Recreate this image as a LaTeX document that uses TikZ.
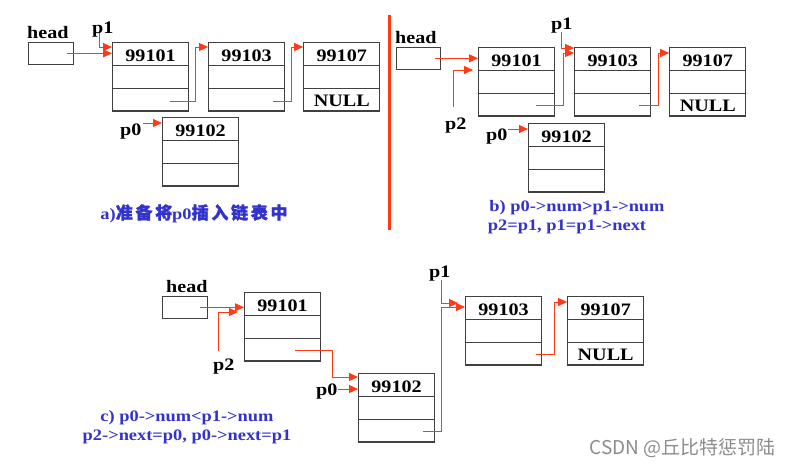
\documentclass[tikz,border=0pt]{standalone}
\usepackage{fontspec}
\setmainfont{Liberation Serif}
\newfontfamily\boxfont[FakeStretch=1.15]{Liberation Serif}
\newfontfamily\cjk[FakeBold=1.5, LetterSpace=16]{Noto Sans CJK SC}
\newfontfamily\wmfont{Noto Sans CJK SC}
\usetikzlibrary{shapes.multipart, arrows.meta, positioning, calc}

\definecolor{linkred}{RGB}{255,58,20}
\definecolor{capblue}{RGB}{50,50,205}
\newcommand{\cell}[1]{\rule[-3.7pt]{0pt}{21.7pt}#1}
\newcommand{\zh}[1]{{\cjk\fontsize{17}{20}\selectfont #1}}

\begin{document}
\begin{tikzpicture}[
        x=1pt, y=-1pt,
        listnode/.style={rectangle split, rectangle split parts=3, draw=black!75, line width=1.1pt, minimum width=76pt, inner xsep=2pt, inner ysep=0pt, anchor=north west, font=\boxfont\bfseries\fontsize{17.5}{18}\selectfont},
        headbox/.style={rectangle, draw=black!75, line width=1.1pt, minimum width=45pt, minimum height=21.5pt, inner sep=0pt, anchor=north west},
        ptr/.style={font=\boxfont\bfseries\fontsize{17.5}{18}\selectfont, inner sep=0pt, anchor=base west},
        caption/.style={font=\boxfont\bfseries\fontsize{16}{19}\selectfont, text=capblue, inner sep=0pt, anchor=base},
        link/.style={draw=linkred, line width=0.9pt, -{Triangle[length=9pt,width=8pt]}}
    ]
    \path[use as bounding box, fill=white] (0,0) rectangle (792,466);

    % Nodes: a)
    \node[headbox] (ha) at (28,42) {};
    \node[listnode] (a1) at (112,42) {\cell{99101}\nodepart{two}\cell{}\nodepart{three}\cell{}};
    \node[listnode, right=19pt of a1] (a2) {\cell{99103}\nodepart{two}\cell{}\nodepart{three}\cell{}};
    \node[listnode, right=18pt of a2] (a3) {\cell{99107}\nodepart{two}\cell{}\nodepart{three}\cell{NULL}};
    \node[listnode] (a0) at (162,117) {\cell{99102}\nodepart{two}\cell{}\nodepart{three}\cell{}};
    \node[ptr] (heada) at (27,38) {head};
    \node[ptr] (p1a) at (92,33) {p1};
    \node[ptr] (p0a) at (120,135) {p0};
    \node[caption] (capa) at (194,219) {a)\zh{准备将}p0\zh{插入链表中}};

    % Nodes: b)
    \node[headbox, minimum width=44pt] (hb) at (396,47) {};
    \node[listnode] (b1) at (478,47) {\cell{99101}\nodepart{two}\cell{}\nodepart{three}\cell{}};
    \node[listnode, right=19pt of b1] (b2) {\cell{99103}\nodepart{two}\cell{}\nodepart{three}\cell{}};
    \node[listnode, right=18pt of b2] (b3) {\cell{99107}\nodepart{two}\cell{}\nodepart{three}\cell{NULL}};
    \node[listnode] (b0) at (528,123) {\cell{99102}\nodepart{two}\cell{}\nodepart{three}\cell{}};
    \node[ptr] (headb) at (395,43) {head};
    \node[ptr] (p1b) at (551,29) {p1};
    \node[ptr] (p2b) at (445,129) {p2};
    \node[ptr] (p0b) at (486,140) {p0};
    \node[caption] (capb1) at (577,211) {b) p0->num>p1->num};
    \node[caption] (capb2) at (567,230) {p2=p1, p1=p1->next};

    % Nodes: c)
    \node[headbox] (hc) at (162,296) {};
    \node[listnode] (c1) at (244,292) {\cell{99101}\nodepart{two}\cell{}\nodepart{three}\cell{}};
    \node[listnode] (c0) at (358,373) {\cell{99102}\nodepart{two}\cell{}\nodepart{three}\cell{}};
    \node[listnode] (c2) at (465,296) {\cell{99103}\nodepart{two}\cell{}\nodepart{three}\cell{}};
    \node[listnode, right=25pt of c2] (c3) {\cell{99107}\nodepart{two}\cell{}\nodepart{three}\cell{NULL}};
    \node[ptr] (headc) at (166,292) {head};
    \node[ptr] (p1c) at (429,277) {p1};
    \node[ptr] (p2c) at (213,370) {p2};
    \node[ptr] (p0c) at (316,395) {p0};
    \node[caption] (capc1) at (187,421) {c) p0->num<p1->num};
    \node[caption] (capc2) at (187,440) {p2->next=p0, p0->next=p1};

    % Separator
    \draw[linkred, line width=3pt] (389,15) -- (389,230);

    % Watermark
    \node[font=\wmfont\fontsize{19}{20}\selectfont, text=black!45, inner sep=0pt, anchor=base east] (wm) at (776,454) {CSDN @丘比特惩罚陆};

    % Connections: a)
    \draw[link] ([xshift=-7pt]ha.east) -- (ha.east -| a1.west);
    \draw[link] ([xshift=7pt]p1a.base west) |- ([shift={(0,5)}]a1.north west);
    \draw[link] ([shift={(-19,-10)}]a1.south east) -- ++(25,0) |- ([shift={(0,5)}]a2.north west);
    \draw[link] ([shift={(-12,-10)}]a2.south east) -- ++(18,0) |- ([shift={(0,5)}]a3.north west);
    \draw[link] ($(a0.north west)+(-19,6)$) -- ($(a0.north west)+(0,6)$);

    % Connections: b)
    \draw[link] ([xshift=-6pt]hb.east) -- (hb.east -| b1.west);
    \draw[link] ([shift={(8,-10)}]p2b.north west) |- ([shift={(-5,23)}]b1.north west);
    \draw[link] ([shift={(10,3)}]p1b.base west) |- ([shift={(0,1)}]b2.north west);
    \draw[link] ([shift={(-19,-11)}]b1.south east) -- ++(27,0) |- ([shift={(0,6)}]b2.north west);
    \draw[link] ([shift={(-12,-11)}]b2.south east) -- ++(19,0) |- ([shift={(0,6)}]b3.north west);
    \draw[link] ($(b0.north west)+(-20,6)$) -- ($(b0.north west)+(0,6)$);

    % Connections: c)
    \draw[link] ([xshift=-8pt]hc.east) -- (hc.east -| c1.west);
    \draw[link] ([shift={(5,-7)}]p2c.north west) |- ([shift={(-6,20)}]c1.north west);
    \draw[link] ([shift={(-26,-11)}]c1.south east) -- ++(37,0) |- ([shift={(0,4)}]c0.north west);
    \draw[link] ($(c0.north west)+(-20,16)$) -- ($(c0.north west)+(0,16)$);
    \draw[link] ([shift={(-12,-11)}]c0.south east) -- ++(18,0) |- ([shift={(0,11)}]c2.north west);
    \draw[link] ([shift={(12,3)}]p1c.base west) |- ([shift={(-7,7)}]c2.north west);
    \draw[link] ([shift={(-6,-11)}]c2.south east) -- ++(18,0) |- ([shift={(0,6)}]c3.north west);

\end{tikzpicture}
\end{document}
